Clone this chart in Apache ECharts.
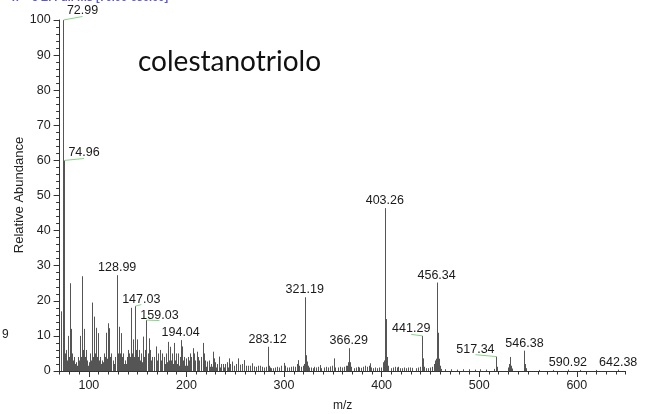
<!DOCTYPE html>
<html>
<head>
<meta charset="utf-8">
<script src="https://cdn.jsdelivr.net/npm/echarts@6/dist/echarts.min.js"></script>
<style>
  html, body { margin: 0; padding: 0; background: #fff; }
  #chart { width: 648px; height: 414px; }
</style>
</head>
<body>
<div id="chart"></div>
<script>
// Mass spectrum: peak positions (m/z) and relative abundances (%)
const peakMz = [
  71.05, 72.99, 73.99, 74.96, 75.96, 77.04, 78.05, 79.05, 80.06, 81.07,
  82.07, 83.08, 84.08, 85.07, 86.07, 89.06, 90.06, 91.05, 92.06, 93.07,
  94.07, 95.09, 96.08, 97.06, 98.07, 101.06, 103.06, 104.06, 105.07, 106.07,
  107.09, 108.08, 109.08, 110.09, 111.08, 113.08, 115.06, 116.07, 117.07, 118.06,
  119.09, 120.08, 121.09, 122.08, 123.08, 125.08, 126.07, 127.05, 128.99, 130.07,
  131.09, 132.08, 133.09, 134.08, 135.1, 137.07, 139.08, 140.08, 141.07, 142.08,
  143.08, 144.08, 145.1, 146.07, 147.03, 148.04, 149.07, 150.07, 151.08, 152.08,
  153.09, 155.1, 156.09, 157.1, 158.09, 159.03, 160.1, 161.1, 162.09, 163.1,
  164.1, 165.1, 167.1, 169.1, 170.1, 171.1, 173.1, 174.1, 175.1, 177.1,
  179.1, 181.1, 182.1, 183.1, 184.1, 185.1, 187.1, 188.1, 189.1, 191.1,
  193.1, 194.04, 195.1, 196.1, 197.1, 199.1, 201.1, 203.1, 204.1, 205.1,
  207.1, 208.1, 209.1, 211.1, 212.1, 213.1, 215.1, 217.1, 218.1, 219.1,
  221.1, 223.1, 225.1, 227.1, 228.1, 229.1, 231.1, 233.1, 235.1, 237.1,
  239.1, 241.1, 243.1, 245.1, 247.1, 249.1, 251.1, 253.1, 255.1, 257.1,
  259.1, 261.1, 263.1, 265.1, 267.1, 269.1, 271.1, 273.1, 275.1, 277.1,
  279.1, 281.1, 283.12, 284.1, 285.1, 287.1, 289.1, 291.1, 293.1, 295.1,
  297.1, 300.1, 301.1, 303.1, 305.1, 307.1, 309.1, 311.1, 313.2, 314.2,
  315.2, 317.2, 319.2, 320.2, 321.19, 322.2, 323.2, 324.2, 325.2, 327.2,
  329.2, 331.2, 333.2, 335.2, 336.5, 338.2, 341.2, 343.2, 345.2, 347.2,
  349.2, 351.2, 352.2, 355.2, 357.2, 359.2, 361.2, 363.2, 364.2, 365.3,
  366.29, 367.3, 368.3, 371.3, 373.3, 375.3, 377.3, 379.3, 381.3, 383.3,
  385.3, 387.3, 388.3, 389.3, 391.3, 393.3, 395.3, 397.3, 399.3, 401.3,
  402.3, 403.26, 404.26, 405.3, 406.3, 409.3, 411.3, 413.3, 415.3, 416.7,
  419.3, 421.3, 423.3, 425.3, 427.3, 429.3, 431.3, 435.3, 437.3, 439.3,
  441.29, 442.29, 443.3, 445.3, 447.3, 449.3, 451.3, 453.3, 454.3, 455.3,
  456.34, 457.34, 458.34, 459.3, 461.3, 465.3, 471.3, 477.3, 483.3, 489.3,
  495.3, 501.3, 507.3, 515.3, 517.34, 518.3, 529.3, 530.3, 531.3, 532.3,
  533.3, 545.4, 546.38, 547.4, 548.4, 561.4, 575.4, 590.92, 603.4, 619.4,
  642.38
];
const peakAbundance = [
  17, 100, 9, 60, 5, 6, 3, 10, 4, 25,
  12, 5, 3, 4, 2, 4, 3, 10, 4, 27,
  6, 12, 4, 6, 3, 5, 19.5, 4, 15.5, 5,
  12.3, 4, 10.8, 3, 4, 3, 5, 4, 10.9, 5,
  13.6, 4, 12.2, 4, 5, 3, 2, 4, 27.3, 5,
  12.6, 5, 10.8, 4, 5, 3, 4, 6, 5, 4,
  18, 5, 9, 4, 18.5, 6, 9, 4, 6, 3,
  5, 9.8, 4, 6, 4, 14.5, 5, 9.3, 3, 6,
  3, 4, 4, 7, 3, 5, 6, 3, 5, 4,
  5, 8.3, 3, 6.9, 3, 5, 8, 3, 5, 5,
  4, 8.8, 7, 3, 4, 3.6, 4, 3, 5, 4,
  6.5, 5, 3, 5.5, 4, 3, 4, 8, 5, 3,
  2.7, 3, 2, 5.5, 3.6, 2.5, 2, 4.1, 2, 2,
  2, 2.5, 3.6, 2, 2.7, 1.5, 2, 3.6, 1.8, 2,
  3.1, 1.5, 1.5, 1.5, 2.2, 1.3, 1.2, 1.5, 1.5, 1.2,
  1, 1.2, 6.9, 1.5, 1, 0.8, 0.8, 1, 1.2, 1,
  1.5, 2.3, 1.5, 1, 1, 1.2, 1.3, 1.2, 2, 3.1,
  1.5, 1.2, 1.5, 2, 21, 4.5, 2.7, 1.5, 1, 1,
  0.8, 1.2, 1, 1.2, 1.7, 0.8, 1, 1.2, 1, 1.3,
  1.5, 3.6, 1, 1, 1.2, 1, 1.2, 1.5, 1.5, 2.5,
  6.5, 2.5, 1.2, 0.8, 1, 1.2, 1, 0.9, 1.2, 1.5,
  1.2, 1.5, 2.2, 1, 0.8, 1, 0.8, 1, 1, 2.5,
  3, 46.4, 14.8, 4, 1.5, 0.8, 1, 1.2, 1, 1.2,
  0.8, 0.8, 1, 0.8, 1, 1, 0.9, 0.8, 1, 1.2,
  10, 3.6, 1.2, 0.8, 0.8, 1, 1.2, 2, 3, 3.5,
  25.2, 10.9, 3.5, 1.5, 0.6, 0.5, 0.5, 0.4, 0.5, 0.5,
  0.4, 0.5, 0.4, 0.6, 4.1, 1.2, 1, 2, 4, 1.5,
  0.7, 0.8, 5.8, 2, 0.8, 0.3, 0.3, 0.4, 0.3, 0.3,
  0.4
];

// Low-level background ions between the main fragments
const backgroundMz = [
  76.5, 78.5, 80.5, 82.5, 84.5, 86.5, 87.5, 88.5, 90.5, 92.5,
  94.5, 96.5, 98.5, 99.5, 100.5, 102.5, 104.5, 106.5, 108.5, 110.5,
  112.5, 114.5, 116.5, 118.5, 120.5, 122.5, 124.5, 126.5, 128.5, 129.5,
  130.5, 132.5, 134.5, 136.5, 138.5, 140.5, 142.5, 144.5, 146.5, 148.5,
  150.5, 152.5, 154.5, 156.5, 158.5, 160.5, 162.5, 164.5, 166.5, 168.5,
  170.5, 172.5, 174.5, 176.5, 178.5, 180.5, 182.5, 184.5, 186.5, 188.5,
  190.5, 192.5, 194.5, 196.5, 198.5, 200.5, 202.5, 206.5, 210.5, 214.5,
  216.5, 220.5, 224.5, 226.5, 230.5, 234.5, 238.5, 242.5, 246.5, 250.5,
  254.5, 258.5
];
const backgroundAbundance = [
  3, 2.5, 4, 3, 2, 2.5, 1.5, 2, 3, 3.5,
  3, 2.5, 2, 1.5, 2.5, 3, 3.5, 3, 3.5, 2.5,
  2, 2.5, 3, 3.5, 3, 2.5, 2, 2, 3, 4,
  3, 3, 2.5, 2, 2, 2.5, 3.5, 3, 3, 2.5,
  2.5, 2, 2.5, 2, 3, 2.5, 2, 2, 1.5, 2.5,
  2, 2, 2, 1.5, 2, 2.5, 2, 2, 2, 2,
  2, 1.5, 2.5, 2, 1.5, 1.5, 1.5, 1.5, 1.5, 1.5,
  1.5, 1.2, 1.2, 1.2, 1, 1, 1, 1, 0.8, 0.8,
  0.8, 0.8
];

// Peaks that carry an m/z annotation
const labelledMz = [72.99, 74.96, 128.99, 147.03, 159.03, 194.04, 283.12, 321.19,
  366.29, 403.26, 441.29, 456.34, 517.34, 546.38, 590.92, 642.38];

// Axis tick values
const xMajorTicks = [100, 200, 300, 400, 500, 600];
const xMinorTicks = [70, 80, 90, 110, 120, 130, 140, 150, 160, 170, 180, 190, 210, 220, 230,
  240, 250, 260, 270, 280, 290, 310, 320, 330, 340, 350, 360, 370, 380, 390, 410, 420, 430,
  440, 450, 460, 470, 480, 490, 510, 520, 530, 540, 550, 560, 570, 580, 590, 610, 620, 630,
  640, 650];
const yTicks = [0, 10, 20, 30, 40, 50, 60, 70, 80, 90, 100];

const chartTitle = 'colestanotriolo';
const scanHeader = 'T: + c EI Full ms [70.00-650.00]';
const xAxisName = 'm/z';
const yAxisName = 'Relative Abundance';

// Annotations moved away from their peak, joined back by a leader line (pixel offsets)
const displacedLabels = {
  '72.99': [20, -9],
  '74.96': [19.6, -7.4],
  '147.03': [6.5, -7],
  '159.03': [13, -5],
  '441.29': [-10.7, -7],
  '517.34': [-20.7, -7.4]
};

const spectrum = backgroundMz.map((m, i) => [m, backgroundAbundance[i]])
  .concat(peakMz.map((m, i) => [m, peakAbundance[i]]));
const annotated = labelledMz.map(m => [m, peakAbundance[peakMz.indexOf(m)]]);

const axisFont = 'Liberation Sans';
const chart = echarts.init(document.getElementById('chart'), null, { renderer: 'canvas' });

chart.setOption({
  animation: false,
  backgroundColor: '#fff',
  grid: { left: 59.6, right: 22.4, top: 20, bottom: 43, containLabel: false, outerBoundsMode: 'none' },
  xAxis: [
    {
      type: 'value', min: 70, max: 650,
      name: xAxisName, nameLocation: 'middle', nameGap: 29, nameMoveOverlap: false,
      nameTextStyle: { fontFamily: axisFont, fontSize: 12, color: '#222' },
      axisLine: { show: true, lineStyle: { color: '#333', width: 1 } },
      axisTick: { show: true, customValues: xMajorTicks, length: 6, lineStyle: { color: '#333' } },
      axisLabel: { customValues: xMajorTicks, fontFamily: axisFont, fontSize: 12.5, color: '#222', margin: 8 },
      splitLine: { show: false }
    },
    {
      type: 'value', min: 70, max: 650, position: 'bottom',
      axisLine: { show: false },
      axisTick: { show: true, customValues: xMinorTicks, length: 3.5, lineStyle: { color: '#333' } },
      axisLabel: { show: false },
      splitLine: { show: false }
    }
  ],
  yAxis: {
    type: 'value', min: 0, max: 100, interval: 10,
    axisLine: { show: true, lineStyle: { color: '#333', width: 1 } },
    axisTick: { show: true, length: 6, lineStyle: { color: '#333' } },
    minorTick: { show: true, splitNumber: 5, length: 3.5, lineStyle: { color: '#333' } },
    axisLabel: {
      fontFamily: axisFont, fontSize: 12.5, color: '#222', margin: 9,
      formatter: v => (yTicks.indexOf(v) >= 0 ? String(v) : '')
    },
    splitLine: { show: false }
  },
  series: [
    {
      // stick spectrum
      type: 'custom',
      data: spectrum,
      encode: { x: 0, y: 1 },
      renderItem: (params, api) => {
        const top = api.coord([api.value(0), api.value(1)]);
        const base = api.coord([api.value(0), 0]);
        const x = Math.round(top[0]) + 0.5;
        return {
          type: 'line',
          shape: { x1: x, y1: base[1], x2: x, y2: top[1] },
          style: { stroke: '#555', lineWidth: 1 }
        };
      }
    },
    {
      // peak annotations
      type: 'custom',
      data: annotated,
      encode: { x: 0, y: 1 },
      z: 5,
      renderItem: (params, api) => {
        const m = api.value(0);
        const p = api.coord([m, api.value(1)]);
        const text = m.toFixed(2);
        const off = displacedLabels[text] || [0, -7.5];
        const cx = p[0] + off[0], cy = p[1] + off[1];
        const children = [{
          type: 'text',
          style: {
            text: text, x: cx, y: cy, align: 'center', verticalAlign: 'middle',
            font: '12.5px "' + axisFont + '"', fill: '#1a1a1a'
          }
        }];
        if (displacedLabels[text]) {
          children.unshift({
            type: 'line',
            shape: { x1: Math.round(p[0]) + 0.5, y1: p[1], x2: cx, y2: cy + 5.5 },
            style: { stroke: '#86d686', lineWidth: 1 }
          });
        }
        return { type: 'group', children: children };
      }
    }
  ],
  graphic: [
    {
      type: 'text', left: 138, top: 48,
      style: { text: chartTitle, font: '28px Lato', fill: '#111' }
    },
    {
      type: 'text', x: 19, y: 195, rotation: Math.PI / 2,
      style: { text: yAxisName, font: '13px "Liberation Sans"', fill: '#222', align: 'center', verticalAlign: 'middle' }
    },
    {
      type: 'text', x: 10, y: 3.5,
      style: { text: scanHeader, font: 'bold 11px "Liberation Sans"', fill: '#5a5ad0', verticalAlign: 'bottom' }
    },
    {
      type: 'text', x: 2, y: 335,
      style: { text: '9', font: '12px "Liberation Sans"', fill: '#222', verticalAlign: 'middle' }
    }
  ]
});
</script>
</body>
</html>
